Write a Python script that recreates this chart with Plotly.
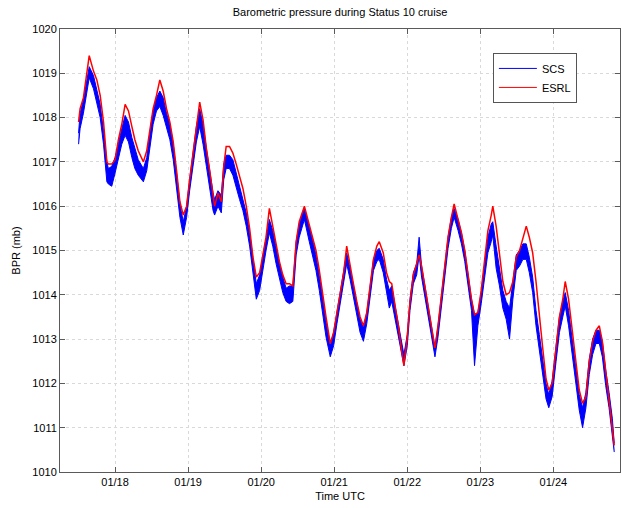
import plotly.graph_objects as go
import pandas as pd

# Hours since 2013-01-17 00:00 UTC
hours = [12.0, 12.5, 13.6, 14.7, 15.5, 16.9, 18.0, 19.1, 20.2, 21.3, 21.8, 22.9, 24.0, 25.1, 26.2, 27.3,
         28.4, 29.5, 30.5, 31.6, 33.3, 34.4, 35.5, 36.5, 37.6, 38.7, 39.8, 40.9, 42.0, 43.1, 44.2, 45.3,
         46.4, 47.5, 48.5, 49.6, 50.7, 51.8, 52.9, 54.0, 55.1, 56.2, 56.7, 57.8, 58.9, 59.7, 60.5, 61.6,
         62.7, 63.8, 64.9, 66.0, 67.1, 68.2, 69.3, 70.4, 71.5, 72.5, 73.6, 74.7, 75.8, 76.9, 78.0, 79.1,
         80.2, 81.3, 82.4, 83.5, 84.5, 86.2, 87.8, 88.9, 90.0, 91.1, 92.2, 93.3, 94.7, 95.8, 96.9, 98.0,
         99.1, 100.1, 101.2, 102.3, 103.4, 104.5, 105.6, 106.7, 107.8, 108.9, 110.0, 110.8, 112.1, 113.2,
         114.1, 114.9, 116.0, 117.1, 118.1, 118.9, 120.0, 120.9, 122.0, 123.1, 123.9, 124.7, 125.8, 126.9,
         128.0, 129.1, 130.1, 131.2, 132.3, 133.4, 134.5, 135.4, 136.7, 137.8, 138.9, 140.0, 141.1, 142.1,
         143.2, 144.3, 145.4, 146.5, 147.6, 148.1, 149.2, 150.3, 151.4, 152.5, 153.6, 154.7, 155.8, 156.9,
         158.0, 159.1, 160.1, 161.2, 162.3, 163.4, 164.5, 165.6, 166.5, 167.6, 168.9, 170.0, 171.1, 171.9,
         173.0, 174.3, 175.4, 176.5, 177.6, 178.7, 179.8, 180.9, 182.0, 183.1, 184.1, 185.2, 186.3, 187.4,
         188.0]

# SCS: upper and lower edge of the noisy blue trace
scs_high = [1017.65, 1018.1, 1018.4, 1018.85, 1019.15, 1018.95, 1018.6, 1018.3, 1017.7, 1017.0, 1016.85, 1016.9,
            1017.1, 1017.45, 1017.75, 1018.05, 1017.9, 1017.55, 1017.3, 1017.05, 1016.85, 1017.1, 1017.7, 1018.15,
            1018.45, 1018.6, 1018.45, 1018.1, 1017.85, 1017.4, 1016.75, 1016.05, 1015.65, 1016.0, 1016.6, 1017.2,
            1017.8, 1018.2, 1017.85, 1017.3, 1016.75, 1016.3, 1016.15, 1016.35, 1016.25, 1016.95, 1017.15, 1017.15,
            1017.05, 1016.75, 1016.5, 1016.2, 1015.85, 1015.4, 1014.8, 1014.25, 1014.45, 1014.85, 1015.3, 1015.7,
            1015.45, 1015.05, 1014.7, 1014.4, 1014.15, 1014.2, 1014.2, 1015.2, 1015.6, 1015.95, 1015.55, 1015.25,
            1014.9, 1014.45, 1013.95, 1013.4, 1012.85, 1013.15, 1013.6, 1014.05, 1014.5, 1014.95, 1014.6, 1014.2,
            1013.8, 1013.45, 1013.25, 1013.6, 1014.2, 1014.8, 1015.0, 1015.05, 1014.8, 1014.35, 1014.1, 1014.2,
            1013.75, 1013.3, 1012.9, 1012.65, 1013.1, 1013.9, 1014.5, 1014.7, 1015.3, 1014.65, 1014.2, 1013.75,
            1013.2, 1012.8, 1013.3, 1013.95, 1014.7, 1015.3, 1015.75, 1015.95, 1015.7, 1015.4, 1015.0, 1014.4,
            1013.9, 1013.55, 1013.6, 1014.05, 1014.7, 1015.3, 1015.6, 1015.65, 1015.1, 1014.65, 1014.1, 1013.85,
            1013.7, 1014.3, 1014.9, 1015.0, 1015.15, 1015.15, 1014.85, 1014.4, 1013.65, 1013.1, 1012.5, 1012.0,
            1011.75, 1012.05, 1012.85, 1013.5, 1013.85, 1014.05, 1013.65, 1012.95, 1012.3, 1011.75, 1011.45, 1011.8,
            1012.55, 1013.0, 1013.2, 1013.2, 1012.95, 1012.3, 1011.8, 1011.2, 1010.65]
scs_low = [1017.4, 1017.75, 1018.1, 1018.55, 1018.9, 1018.65, 1018.35, 1018.0, 1017.4, 1016.55, 1016.5, 1016.45,
           1016.75, 1017.1, 1017.4, 1017.6, 1017.45, 1017.1, 1016.85, 1016.7, 1016.55, 1016.8, 1017.4, 1017.85,
           1018.15, 1018.25, 1018.05, 1017.8, 1017.5, 1017.05, 1016.45, 1015.75, 1015.35, 1015.75, 1016.35, 1016.95,
           1017.45, 1017.8, 1017.4, 1016.9, 1016.4, 1015.9, 1015.8, 1016.0, 1015.85, 1016.6, 1016.85, 1016.85,
           1016.7, 1016.4, 1016.15, 1015.9, 1015.55, 1015.1, 1014.5, 1013.9, 1014.1, 1014.55, 1015.0, 1015.4,
           1015.1, 1014.7, 1014.35, 1014.05, 1013.85, 1013.8, 1013.85, 1014.9, 1015.3, 1015.7, 1015.2, 1014.9,
           1014.55, 1014.1, 1013.6, 1013.05, 1012.6, 1012.85, 1013.35, 1013.8, 1014.25, 1014.7, 1014.35, 1013.95,
           1013.55, 1013.15, 1012.95, 1013.35, 1013.95, 1014.55, 1014.75, 1014.8, 1014.5, 1014.0, 1013.7, 1013.85,
           1013.45, 1013.05, 1012.6, 1012.4, 1012.85, 1013.65, 1014.25, 1014.45, 1014.9, 1014.4, 1013.95, 1013.5,
           1012.95, 1012.6, 1013.05, 1013.7, 1014.45, 1015.05, 1015.5, 1015.75, 1015.45, 1015.15, 1014.75, 1014.15,
           1013.65, 1012.4, 1013.3, 1013.8, 1014.4, 1014.95, 1015.2, 1015.35, 1014.6, 1014.2, 1013.7, 1013.45,
           1013.0, 1013.9, 1014.55, 1014.65, 1014.8, 1014.8, 1014.5, 1014.05, 1013.3, 1012.75, 1012.15, 1011.65,
           1011.45, 1011.7, 1012.5, 1013.15, 1013.5, 1013.75, 1013.3, 1012.6, 1011.95, 1011.4, 1011.0, 1011.45,
           1012.2, 1012.65, 1012.9, 1012.9, 1012.6, 1011.95, 1011.45, 1010.85, 1010.45]

# ESRL trace
esrl = [1017.9, 1018.2, 1018.45, 1018.95, 1019.4, 1019.05, 1018.85, 1018.5, 1017.9, 1017.0, 1016.95, 1016.95,
        1017.05, 1017.5, 1017.85, 1018.3, 1018.15, 1017.8, 1017.5, 1017.25, 1017.0, 1017.25, 1017.75, 1018.2,
        1018.5, 1018.85, 1018.6, 1018.2, 1017.9, 1017.45, 1016.8, 1016.1, 1015.8, 1016.0, 1016.6, 1017.2,
        1017.75, 1018.35, 1017.95, 1017.3, 1016.8, 1016.3, 1016.0, 1016.3, 1016.1, 1016.9, 1017.35, 1017.35,
        1017.2, 1016.95, 1016.7, 1016.4, 1016.0, 1015.5, 1014.85, 1014.4, 1014.5, 1014.85, 1015.3, 1015.95,
        1015.55, 1015.1, 1014.75, 1014.45, 1014.25, 1014.25, 1014.2, 1015.2, 1015.65, 1016.0, 1015.6, 1015.3,
        1015.0, 1014.55, 1014.0, 1013.5, 1012.9, 1013.15, 1013.6, 1014.05, 1014.5, 1015.1, 1014.65, 1014.25,
        1013.85, 1013.5, 1013.3, 1013.6, 1014.2, 1014.8, 1015.1, 1015.2, 1014.95, 1014.5, 1014.3, 1014.25,
        1013.75, 1013.3, 1012.75, 1012.4, 1013.05, 1013.85, 1014.45, 1014.7, 1014.9, 1014.65, 1014.2, 1013.7,
        1013.2, 1012.8, 1013.3, 1013.95, 1014.7, 1015.3, 1015.75, 1016.05, 1015.7, 1015.4, 1015.0, 1014.4,
        1013.9, 1013.55, 1013.6, 1014.1, 1014.8, 1015.45, 1015.8, 1016.0, 1015.55, 1014.85, 1014.3, 1014.0,
        1014.05, 1014.3, 1014.85, 1015.0, 1015.3, 1015.55, 1015.3, 1014.95, 1014.3, 1013.5, 1012.8, 1012.1,
        1011.85, 1012.0, 1012.8, 1013.5, 1013.9, 1014.3, 1013.9, 1013.1, 1012.4, 1011.85, 1011.55, 1011.7,
        1012.5, 1012.95, 1013.2, 1013.3, 1012.95, 1012.3, 1011.75, 1011.1, 1010.6]

start = pd.Timestamp("2013-01-17 00:00")
times = [start + pd.Timedelta(hours=h) for h in hours]

tick_days = ["2013-01-18", "2013-01-19", "2013-01-20", "2013-01-21", "2013-01-22", "2013-01-23", "2013-01-24"]
tick_labels = ["01/18", "01/19", "01/20", "01/21", "01/22", "01/23", "01/24"]

BLUE = "#0000FF"
RED = "#FF0000"

fig = go.Figure()
# noisy SCS band: lower edge, then upper edge filled down to it
fig.add_trace(go.Scatter(x=times, y=scs_low, mode="lines", showlegend=False, hoverinfo="skip",
                         line=dict(color=BLUE, width=1)))
fig.add_trace(go.Scatter(x=times, y=scs_high, mode="lines", showlegend=False, fill="tonexty",
                         fillcolor=BLUE, line=dict(color=BLUE, width=1)))
fig.add_trace(go.Scatter(x=times, y=esrl, mode="lines", showlegend=False,
                         line=dict(color=RED, width=1.5)))
# legend entries
fig.add_trace(go.Scatter(x=[None], y=[None], mode="lines", name="SCS", line=dict(color=BLUE, width=1)))
fig.add_trace(go.Scatter(x=[None], y=[None], mode="lines", name="ESRL", line=dict(color=RED, width=1)))

font = dict(family="Liberation Sans, Arial, sans-serif", size=11, color="#000000")
axis_common = dict(showline=True, linecolor="#5a5a5a", linewidth=1, mirror="ticks",
                   ticks="inside", ticklen=5, tickcolor="#5a5a5a",
                   showgrid=True, gridcolor="#d9d9d9", griddash="dot", gridwidth=1,
                   zeroline=False, tickfont=font, automargin=False)

fig.update_layout(
    width=622, height=508,
    margin=dict(l=60, r=2, t=29, b=36, autoexpand=False),
    paper_bgcolor="white", plot_bgcolor="white",
    font=font,
    title=dict(text="Barometric pressure during Status 10 cruise", x=(60 + 620) / 2 / 622,
               xanchor="center", xref="container", y=1 - 12 / 508, yref="container",
               yanchor="middle", font=dict(size=11, family=font["family"])),
    showlegend=True,
    legend=dict(x=0.773, y=0.946, xanchor="left", yanchor="top", traceorder="normal",
                bordercolor="#555555", borderwidth=1, bgcolor="white",
                font=dict(size=11, family=font["family"]), tracegroupgap=0,
                itemwidth=38),
    xaxis=dict(axis_common, range=[start + pd.Timedelta(hours=5.9), start + pd.Timedelta(hours=189.9)],
               tickvals=tick_days, ticktext=tick_labels,
               title=dict(text="Time UTC", font=font, standoff=5)),
    yaxis=dict(axis_common, range=[1010, 1020], dtick=1,
               title=dict(text="BPR (mb)", font=font, standoff=9)),
)

fig.write_html("out.html", config={"displayModeBar": False},
               post_script="document.body.style.margin='0';document.body.style.overflow='hidden';")
